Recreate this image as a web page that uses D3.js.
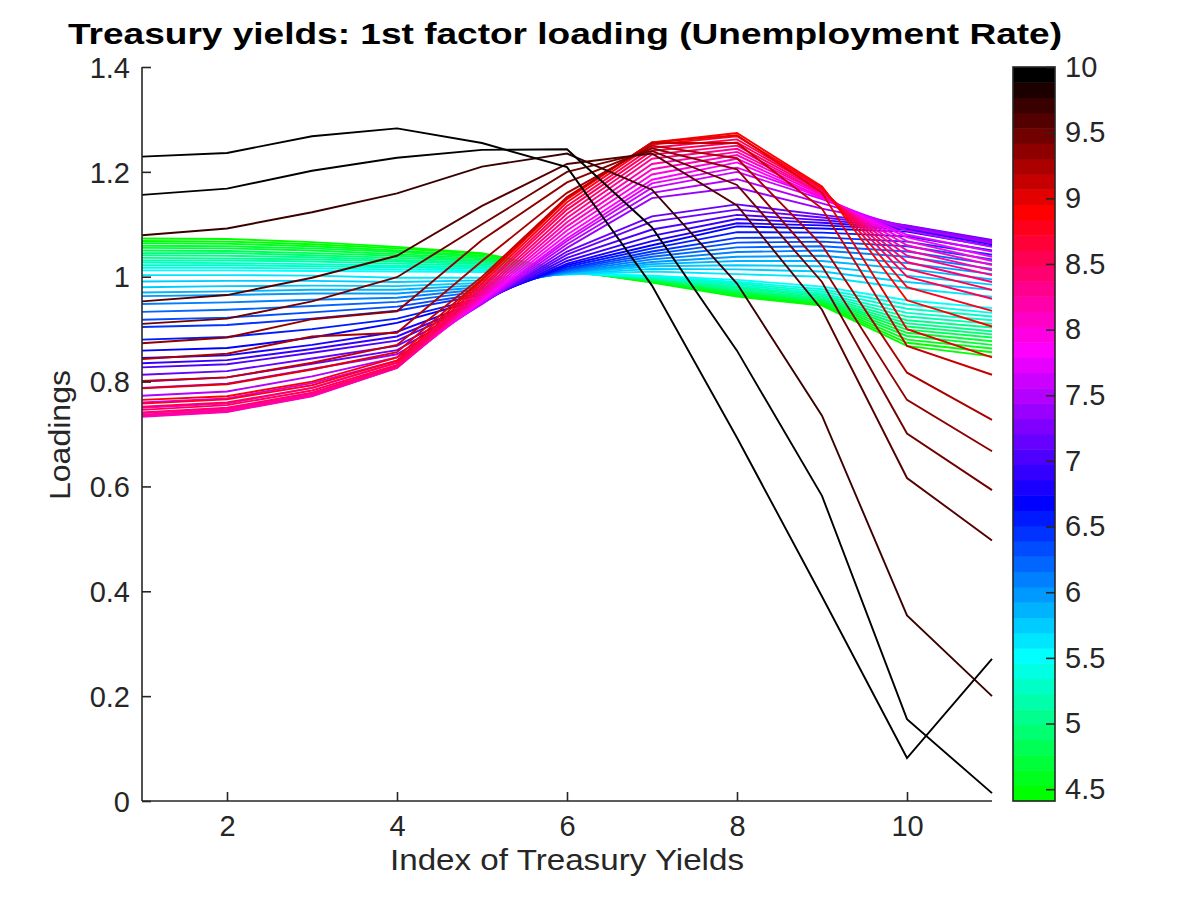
<!DOCTYPE html>
<html>
<head>
<meta charset="utf-8">
<script src="https://cdn.jsdelivr.net/npm/d3@7"></script>
<style>
  html, body { margin: 0; padding: 0; background: #fff; }
  svg { display: block; font-family: "Liberation Sans", Arial, Helvetica, sans-serif; }
</style>
</head>
<body>
<svg id="chart" width="1200" height="900"></svg>
<script>
// ---------------- DATA ----------------
const xIndex = [1, 2, 3, 4, 5, 6, 7, 8, 9, 10, 11];
const xTicks = [2, 4, 6, 8, 10];
const yTicks = [0, 0.2, 0.4, 0.6, 0.8, 1.0, 1.2, 1.4];
const yTickLabels = ["0", "0.2", "0.4", "0.6", "0.8", "1", "1.2", "1.4"];
const cbTicks = [4.5, 5, 5.5, 6, 6.5, 7, 7.5, 8, 8.5, 9, 9.5, 10];
const cbTickLabels = ["4.5", "5", "5.5", "6", "6.5", "7", "7.5", "8", "8.5", "9", "9.5", "10"];

// unemployment rate associated with each loading curve
const unemployment = [
  4.42, 4.50, 4.58, 4.66, 4.75, 4.84, 4.92, 5.00, 5.08, 5.17, 5.25, 5.33, 5.42, 5.50,
  5.60, 5.70, 5.80, 5.90, 6.00, 6.10, 6.20, 6.35, 6.45, 6.58, 6.70,
  6.80, 6.90, 7.00, 7.10, 7.20, 7.35, 7.50, 7.65, 7.78,
  7.90, 8.00, 8.10, 8.20, 8.30, 8.40, 8.50, 8.60, 8.75, 8.90,
  9.00, 9.10, 9.25, 9.40, 9.50, 9.60, 9.75, 9.90, 10.0
];

// loadings on the 11 treasury yields, one row per curve
const loadings = [
  [1.073,1.072,1.066,1.057,1.045,1.012,0.989,0.962,0.945,0.868,0.848],
  [1.068,1.067,1.062,1.054,1.043,1.012,0.990,0.964,0.947,0.874,0.856],
  [1.064,1.063,1.058,1.050,1.040,1.011,0.991,0.966,0.949,0.880,0.863],
  [1.059,1.058,1.054,1.047,1.038,1.011,0.992,0.968,0.951,0.887,0.870],
  [1.055,1.054,1.050,1.043,1.035,1.010,0.993,0.970,0.953,0.893,0.877],
  [1.050,1.049,1.045,1.040,1.032,1.010,0.994,0.972,0.955,0.899,0.884],
  [1.045,1.045,1.041,1.036,1.030,1.009,0.995,0.974,0.957,0.905,0.890],
  [1.041,1.040,1.037,1.032,1.027,1.009,0.996,0.976,0.959,0.911,0.896],
  [1.036,1.035,1.033,1.029,1.024,1.008,0.997,0.979,0.962,0.917,0.903],
  [1.031,1.031,1.029,1.025,1.021,1.008,0.998,0.981,0.965,0.924,0.910],
  [1.027,1.026,1.024,1.021,1.018,1.007,0.999,0.984,0.968,0.931,0.917],
  [1.022,1.022,1.020,1.018,1.015,1.007,1.000,0.987,0.972,0.939,0.924],
  [1.017,1.017,1.016,1.014,1.012,1.006,1.001,0.990,0.976,0.947,0.931],
  [1.012,1.012,1.011,1.010,1.009,1.006,1.002,0.994,0.981,0.955,0.940],

  [1.003,1.003,1.002,0.998,0.998,1.004,1.010,1.005,1.000,0.978,0.962],
  [0.991,0.992,0.992,0.990,0.993,1.005,1.015,1.014,1.010,0.990,0.975],
  [0.980,0.982,0.983,0.982,0.988,1.006,1.020,1.022,1.020,1.002,0.985],
  [0.970,0.972,0.975,0.975,0.984,1.007,1.024,1.030,1.030,1.015,0.995],
  [0.963,0.965,0.968,0.968,0.980,1.008,1.028,1.038,1.040,1.026,1.005],
  [0.948,0.951,0.956,0.960,0.976,1.010,1.033,1.047,1.050,1.038,1.015],
  [0.933,0.937,0.944,0.952,0.972,1.012,1.038,1.056,1.058,1.048,1.024],
  [0.918,0.922,0.932,0.943,0.968,1.014,1.043,1.065,1.067,1.058,1.033],
  [0.904,0.908,0.920,0.935,0.965,1.016,1.048,1.074,1.075,1.067,1.042],
  [0.880,0.885,0.900,0.920,0.960,1.019,1.054,1.085,1.084,1.077,1.050],
  [0.859,0.864,0.884,0.912,0.957,1.022,1.060,1.096,1.092,1.086,1.058],

  [0.845,0.850,0.870,0.895,0.955,1.025,1.068,1.102,1.098,1.090,1.062],
  [0.835,0.841,0.862,0.886,0.953,1.030,1.078,1.110,1.103,1.093,1.064],
  [0.827,0.833,0.855,0.878,0.952,1.036,1.090,1.118,1.108,1.095,1.066],
  [0.813,0.820,0.844,0.868,0.950,1.042,1.105,1.128,1.113,1.097,1.068],
  [0.800,0.808,0.834,0.860,0.949,1.048,1.115,1.138,1.118,1.098,1.070],
  [0.788,0.796,0.824,0.852,0.948,1.055,1.150,1.170,1.130,1.097,1.068],
  [0.773,0.781,0.810,0.846,0.948,1.062,1.160,1.186,1.140,1.094,1.064],
  [0.760,0.768,0.797,0.840,0.950,1.068,1.170,1.200,1.148,1.088,1.057],
  [0.750,0.758,0.788,0.836,0.952,1.073,1.178,1.208,1.152,1.080,1.048],

  [0.740,0.748,0.778,0.830,0.955,1.080,1.185,1.218,1.150,1.075,1.038],
  [0.735,0.744,0.774,0.828,0.958,1.088,1.195,1.225,1.152,1.068,1.030],
  [0.733,0.742,0.772,0.826,0.961,1.096,1.205,1.232,1.155,1.060,1.022],
  [0.734,0.743,0.773,0.826,0.965,1.104,1.215,1.238,1.158,1.050,1.012],
  [0.737,0.746,0.775,0.827,0.969,1.112,1.225,1.244,1.160,1.040,1.003],
  [0.741,0.750,0.779,0.829,0.973,1.120,1.233,1.250,1.163,1.028,0.990],
  [0.746,0.755,0.783,0.832,0.978,1.128,1.240,1.256,1.166,1.015,0.975],
  [0.752,0.760,0.788,0.836,0.982,1.135,1.246,1.262,1.168,1.000,0.958],
  [0.758,0.766,0.793,0.840,0.987,1.142,1.252,1.268,1.170,0.980,0.935],
  [0.765,0.772,0.800,0.846,0.992,1.148,1.256,1.274,1.172,0.955,0.905],

  [0.787,0.795,0.823,0.856,0.995,1.150,1.256,1.270,1.160,0.900,0.846],
  [0.801,0.808,0.836,0.870,1.000,1.152,1.255,1.255,1.130,0.868,0.813],
  [0.843,0.853,0.886,0.893,1.030,1.160,1.250,1.226,1.060,0.817,0.727],
  [0.873,0.884,0.919,0.934,1.070,1.180,1.245,1.205,1.020,0.765,0.667],
  [0.910,0.920,0.953,0.999,1.100,1.200,1.240,1.175,0.990,0.701,0.593],
  [0.953,0.965,0.998,1.040,1.135,1.215,1.235,1.136,0.937,0.616,0.497],
  [1.079,1.092,1.123,1.159,1.210,1.235,1.166,0.987,0.735,0.354,0.200],
  [1.156,1.168,1.202,1.227,1.242,1.243,1.094,0.859,0.582,0.156,0.015],
  [1.229,1.236,1.268,1.283,1.255,1.209,0.983,0.693,0.390,0.082,0.271]
];

// colormap anchors (band index -> colour)
const cmapAnchorBands = [0, 9, 19, 29, 38, 47];
const cmapAnchorColors = ["#00ff00", "#00ffff", "#0000ff", "#ff00ff", "#ff0000", "#000000"];
const cmapBands = 48;
const cbDomain = [4.41, 10];

const titleText = "Treasury yields: 1st factor loading (Unemployment Rate)";
const xLabelText = "Index of Treasury Yields";
const yLabelText = "Loadings";

// ---------------- LAYOUT ----------------
const svg = d3.select("#chart");
const plot = { left: 142, right: 992, top: 67, bottom: 801 };
const cb = { left: 1013, right: 1055, top: 67, bottom: 801 };
const axisColor = "#262626";
const fontFam = "'Liberation Sans', Arial, Helvetica, sans-serif";

const x = d3.scaleLinear().domain([1, 11]).range([plot.left, plot.right]);
const y = d3.scaleLinear().domain([0, 1.4]).range([plot.bottom, plot.top]);
const yc = d3.scaleLinear().domain(cbDomain).range([cb.bottom, cb.top]);

// build discrete colormap
const anchorInterp = d3.scaleLinear().domain(cmapAnchorBands).range(cmapAnchorColors)
  .interpolate(d3.interpolateRgb);
const cmap = d3.range(cmapBands).map(i => anchorInterp(i));
const bandWidth = (cbDomain[1] - cbDomain[0]) / cmapBands;
const colorOf = u => {
  let i = Math.floor((u - cbDomain[0]) / bandWidth);
  i = Math.max(0, Math.min(cmapBands - 1, i));
  return cmap[i];
};

// ---------------- LINES ----------------
const line = d3.line().x((d, i) => x(xIndex[i])).y(d => y(d));
const order = d3.range(unemployment.length).sort((a, b) => unemployment[a] - unemployment[b]);
svg.append("g").attr("class", "curves")
  .selectAll("path").data(order).join("path")
  .attr("d", k => line(loadings[k]))
  .attr("fill", "none")
  .attr("stroke", k => colorOf(unemployment[k]))
  .attr("stroke-width", 1.9)
  .attr("stroke-linejoin", "miter");

// ---------------- AXES ----------------
const tickFont = 29;
const xAxis = d3.axisBottom(x).tickValues(xTicks).tickSize(-9).tickPadding(14)
  .tickFormat(d3.format("d"));
const gx = svg.append("g").attr("transform", `translate(0,${plot.bottom})`).call(xAxis);
const yAxis = d3.axisLeft(y).tickValues(yTicks).tickSize(-9).tickPadding(12)
  .tickFormat((d, i) => yTickLabels[i]);
const gy = svg.append("g").attr("transform", `translate(${plot.left},0)`).call(yAxis);

[gx, gy].forEach(g => {
  g.select(".domain").attr("stroke", axisColor).attr("stroke-width", 1.6);
  g.selectAll(".tick line").attr("stroke", axisColor).attr("stroke-width", 1.6);
  g.selectAll(".tick text").attr("fill", axisColor).attr("font-size", tickFont)
    .attr("font-family", fontFam);
});
gx.select(".domain").attr("d", `M${plot.left},0H${plot.right}`);
gy.select(".domain").attr("d", `M0,${plot.bottom}V${plot.top}`);
gy.selectAll(".tick text").attr("dy", "0.35em");

// axis labels
svg.append("text").attr("x", 567).attr("y", 870)
  .attr("text-anchor", "middle").attr("font-size", 30).attr("fill", axisColor)
  .attr("textLength", 354).attr("lengthAdjust", "spacingAndGlyphs")
  .text(xLabelText);
svg.append("text").attr("transform", `translate(70,435) rotate(-90)`)
  .attr("text-anchor", "middle").attr("font-size", 30).attr("fill", axisColor)
  .attr("textLength", 130).attr("lengthAdjust", "spacingAndGlyphs")
  .text(yLabelText);

// title
svg.append("text").attr("x", 565).attr("y", 44)
  .attr("text-anchor", "middle").attr("font-size", 30).attr("font-weight", "bold")
  .attr("fill", "#000")
  .attr("textLength", 994).attr("lengthAdjust", "spacingAndGlyphs")
  .text(titleText);

// ---------------- COLORBAR ----------------
const cbG = svg.append("g");
cbG.selectAll("rect.band").data(cmap).join("rect")
  .attr("class", "band")
  .attr("x", cb.left)
  .attr("width", cb.right - cb.left)
  .attr("y", (c, i) => yc(cbDomain[0] + (i + 1) * bandWidth))
  .attr("height", (c, i) => yc(cbDomain[0] + i * bandWidth) - yc(cbDomain[0] + (i + 1) * bandWidth) + 0.5)
  .attr("fill", c => c);
cbG.append("rect").attr("x", cb.left).attr("y", cb.top)
  .attr("width", cb.right - cb.left).attr("height", cb.bottom - cb.top)
  .attr("fill", "none").attr("stroke", axisColor).attr("stroke-width", 1.6);
const cbAxis = d3.axisRight(yc).tickValues(cbTicks).tickSize(-9).tickPadding(10)
  .tickFormat((d, i) => cbTickLabels[i]);
const gcb = svg.append("g").attr("transform", `translate(${cb.right},0)`).call(cbAxis);
gcb.select(".domain").remove();
gcb.selectAll(".tick line").attr("stroke", axisColor).attr("stroke-width", 1.6);
gcb.selectAll(".tick text").attr("fill", axisColor).attr("font-size", tickFont)
  .attr("font-family", fontFam);
</script>
</body>
</html>
